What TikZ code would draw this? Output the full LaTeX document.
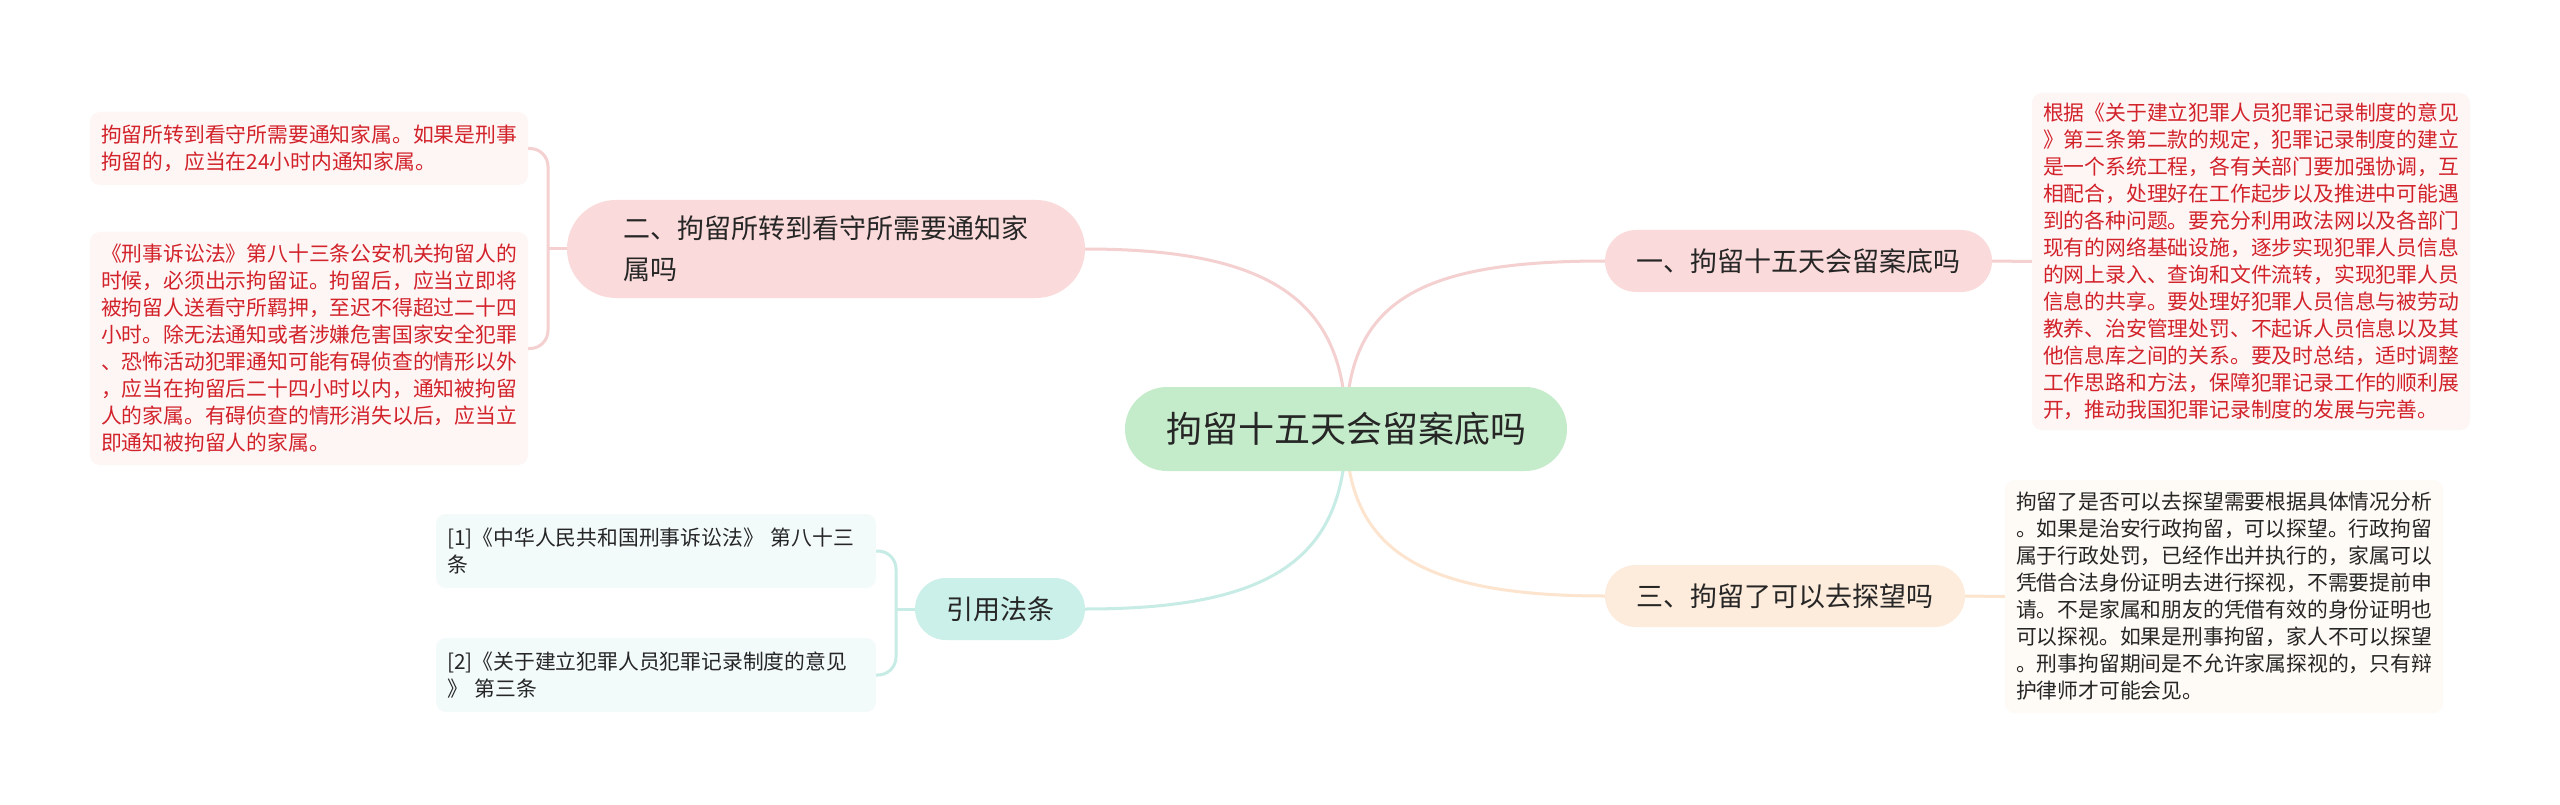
\documentclass[tikz,border=0pt]{standalone}
\usepackage{fontspec}
\setmainfont{Noto Sans CJK SC}
\usetikzlibrary{backgrounds}
\definecolor{rootfill}{HTML}{C5ECCA}
\definecolor{pinkfill}{HTML}{FADADA}
\definecolor{peachfill}{HTML}{FDEBDB}
\definecolor{cyanfill}{HTML}{CBEFE9}
\definecolor{pinkleaf}{HTML}{FEF5F5}
\definecolor{peachleaf}{HTML}{FEFAF5}
\definecolor{cyanleaf}{HTML}{F3FAFA}
\definecolor{redtext}{HTML}{D2222A}
\definecolor{darktext}{HTML}{262626}
\definecolor{pinkline}{HTML}{F5D0D0}
\definecolor{peachline}{HTML}{FDE4CE}
\definecolor{cyanline}{HTML}{C6ECE5}
\begin{document}
\begin{tikzpicture}[x=1pt,y=-1pt,
  rootbox/.style={fill=rootfill, rounded corners=42pt, minimum width=442pt, minimum height=84pt, inner sep=0pt, font=\fontsize{36}{44}\selectfont, text=darktext},
  branchbox/.style={rounded corners=31pt, minimum height=62pt, inner sep=0pt, font=\fontsize{27}{41}\selectfont, text=darktext, align=left},
  leafbox/.style={rounded corners=10pt, inner xsep=11pt, inner ysep=0pt, text width=416pt, minimum width=438pt, font=\fontsize{20.8}{27}\selectfont, align=left},
  conn/.style={line width=3pt},
]
\useasboundingbox (0,0) rectangle (2560,805);

% root
\node[rootbox] (root) at (1346,429) {拘留十五天会留案底吗};

% branches
\node[branchbox, fill=pinkfill, minimum width=387pt] (b1) at (1798.5,261) {一、拘留十五天会留案底吗};
\node[branchbox, fill=peachfill, minimum width=360pt] (b3) at (1785,596) {三、拘留了可以去探望吗};
\node[branchbox, fill=pinkfill, minimum width=518pt, minimum height=98pt, rounded corners=49pt] (b2) at (826,249) {二、拘留所转到看守所需要通知家\\属吗};
\node[branchbox, fill=cyanfill, minimum width=170pt] (cite) at (1000,609) {引用法条};

% leaves
\node[leafbox, fill=pinkleaf, text=redtext, minimum height=337pt] (l1) at (2251,261.5) {根据《关于建立犯罪人员犯罪记录制度的意见\\》第三条第二款的规定，犯罪记录制度的建立\\是一个系统工程，各有关部门要加强协调，互\\相配合，处理好在工作起步以及推进中可能遇\\到的各种问题。要充分利用政法网以及各部门\\现有的网络基础设施，逐步实现犯罪人员信息\\的网上录入、查询和文件流转，实现犯罪人员\\信息的共享。要处理好犯罪人员信息与被劳动\\教养、治安管理处罚、不起诉人员信息以及其\\他信息库之间的关系。要及时总结，适时调整\\工作思路和方法，保障犯罪记录工作的顺利展\\开，推动我国犯罪记录制度的发展与完善。};

\node[leafbox, fill=peachleaf, text=darktext, minimum height=233pt] (l3) at (2224,596.5) {拘留了是否可以去探望需要根据具体情况分析\\。如果是治安行政拘留，可以探望。行政拘留\\属于行政处罚，已经作出并执行的，家属可以\\凭借合法身份证明去进行探视，不需要提前申\\请。不是家属和朋友的凭借有效的身份证明也\\可以探视。如果是刑事拘留，家人不可以探望\\。刑事拘留期间是不允许家属探视的，只有辩\\护律师才可能会见。};

\node[leafbox, fill=pinkleaf, text=redtext, minimum height=73pt] (l2a) at (309,148.5) {拘留所转到看守所需要通知家属。如果是刑事\\拘留的，应当在24小时内通知家属。};

\node[leafbox, fill=pinkleaf, text=redtext, minimum height=233pt] (l2b) at (309,348.5) {《刑事诉讼法》第八十三条公安机关拘留人的\\时候，必须出示拘留证。拘留后，应当立即将\\被拘留人送看守所羁押，至迟不得超过二十四\\小时。除无法通知或者涉嫌危害国家安全犯罪\\、恐怖活动犯罪通知可能有碍侦查的情形以外\\，应当在拘留后二十四小时以内，通知被拘留\\人的家属。有碍侦查的情形消失以后，应当立\\即通知被拘留人的家属。};

\node[leafbox, fill=cyanleaf, text=darktext, minimum width=440pt, text width=418pt, minimum height=74pt] (c1) at (656,551) {[1]《中华人民共和国刑事诉讼法》 第八十三\\条};
\node[leafbox, fill=cyanleaf, text=darktext, minimum width=440pt, text width=418pt, minimum height=74pt] (c2) at (656,675) {[2]《关于建立犯罪人员犯罪记录制度的意见\\》 第三条};

\coordinate (j2) at (548,249);
\coordinate (jc) at (896,609);

\begin{scope}[on background layer]
\fill[white] (0,0) rectangle (2560,805);
\draw[conn, pinkline] (root.center) .. controls (1346,300) and (1420,261) .. (b1.west);
\draw[conn, pinkline] (root.center) .. controls (1346,300) and (1270,249) .. (b2.east);
\draw[conn, peachline] (root.center) .. controls (1346,550) and (1420,596) .. (b3.west);
\draw[conn, cyanline] (root.center) .. controls (1346,560) and (1270,609) .. (cite.east);
\draw[conn, pinkline] (b1.east) -- (l1.west);
\draw[conn, peachline] (b3.east) -- (l3.west);
\draw[conn, pinkline] (b2.west) -- (j2);
\draw[conn, pinkline, rounded corners=18pt] (l2a.east) -| (j2) |- (l2b.east);
\draw[conn, cyanline] (cite.west) -- (jc);
\draw[conn, cyanline, rounded corners=18pt] (c1.east) -| (jc) |- (c2.east);
\end{scope}
\end{tikzpicture}
\end{document}
